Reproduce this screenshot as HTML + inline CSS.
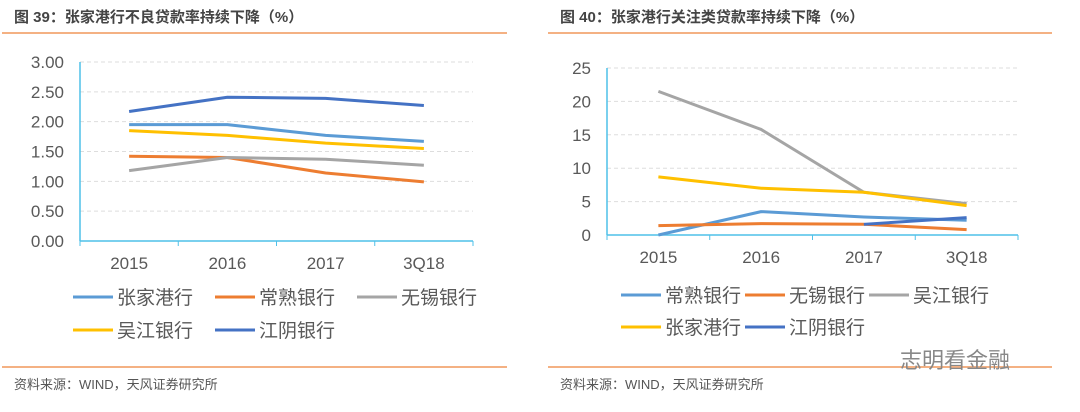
<!DOCTYPE html>
<html><head><meta charset="utf-8">
<style>
body{margin:0;background:#fff;width:1080px;height:407px;overflow:hidden;font-family:"Liberation Sans","Noto Sans CJK SC",sans-serif;}
svg text{font-family:"Liberation Sans","Noto Sans CJK SC",sans-serif;}
</style></head><body>
<svg id="s" width="1080" height="407" xmlns="http://www.w3.org/2000/svg">
<text x="14" y="22" font-size="15" font-weight="bold" fill="#444">图 39：张家港行不良贷款率持续下降（%）</text>
<text x="560" y="22" font-size="15" font-weight="bold" fill="#444">图 40：张家港行关注类贷款率持续下降（%）</text>
<line x1="2" y1="33" x2="507" y2="33" stroke="#F4B183" stroke-width="2"/>
<line x1="548" y1="33" x2="1052" y2="33" stroke="#F4B183" stroke-width="2"/>
<line x1="2" y1="367" x2="507" y2="367" stroke="#F4B183" stroke-width="2"/>
<line x1="548" y1="367" x2="1052" y2="367" stroke="#F4B183" stroke-width="2"/>
<text x="14" y="389" font-size="13" fill="#555">资料来源：WIND，天风证券研究所</text>
<text x="560" y="389" font-size="13" fill="#555">资料来源：WIND，天风证券研究所</text>
<text x="900" y="368" font-size="22" fill="#888">志明看金融</text>
<g id="c1"></g><g id="c2"></g>
</svg>
<script>
const cats=["2015","2016","2017","3Q18"];
const leftTicks=["0.00","0.50","1.00","1.50","2.00","2.50","3.00"];
const leftNames=["张家港行","常熟银行","无锡银行","吴江银行","江阴银行"];
const leftZJG=[1.95,1.95,1.77,1.67];
const leftCS=[1.42,1.40,1.14,0.99];
const leftWX=[1.18,1.40,1.37,1.27];
const leftWJ=[1.85,1.77,1.64,1.55];
const leftJY=[2.17,2.41,2.39,2.27];
const rightTicks=["0","5","10","15","20","25"];
const rightNames=["常熟银行","无锡银行","吴江银行","张家港行","江阴银行"];
const rightCS=[0,3.5,2.7,2.2];
const rightWX=[1.4,1.7,1.6,0.8];
const rightWJ=[21.5,15.8,6.4,4.7];
const rightZJG=[8.7,7.0,6.4,4.4];
const rightJY=[null,null,1.6,2.6];
const NS="http://www.w3.org/2000/svg";
function el(p,t,a){const e=document.createElementNS(NS,t);for(const k in a)e.setAttribute(k,a[k]);p.appendChild(e);return e;}
function chart(g,o){
  const {x0,x1,y0,y1,max,ticks,series,colors,names,legend}=o;
  const Y=v=>y0-(v/max)*(y0-y1);
  const bw=(x1-x0)/cats.length;
  const X=i=>x0+bw*(i+0.5);
  ticks.forEach((t,i)=>{const v=parseFloat(t);const y=Y(v);
    if(v>0){const l=el(g,"line",{x1:x0,x2:x1,y1:y,y2:y,stroke:"#ddd","stroke-dasharray":"4,3"});
      
      }
    const tx=el(g,"text",{x:x0-16,y:y+6,"text-anchor":"end","font-size":"17",fill:"#595959"});tx.textContent=t;
    
    
  });
  const ya=el(g,"line",{x1:x0,x2:x0,y1:y1,y2:y0,stroke:"#4FC1E9","stroke-width":1.5});
  
  
  const xa=el(g,"line",{x1:x0,x2:x1,y1:y0,y2:y0,stroke:"#4FC1E9","stroke-width":1.5});
  
  
  for(let i=0;i<=cats.length;i++){el(g,"line",{x1:x0+bw*i,x2:x0+bw*i,y1:y0,y2:y0+5,stroke:"#4FC1E9"});}
  cats.forEach((c,i)=>{const t=el(g,"text",{x:X(i),y:y0+28,"text-anchor":"middle","font-size":"17",fill:"#595959"});t.textContent=c;
    
    });
  series.forEach((s,k)=>{let d="";s.forEach((v,i)=>{if(v===null)return;d+=(d?"L":"M")+X(i)+","+Y(v);});
    const p=el(g,"path",{d:d,fill:"none",stroke:colors[k],"stroke-width":3,"stroke-linejoin":"round"});
    
    });
  names.forEach((n,k)=>{const [lx,ly]=legend[k];
    const l=el(g,"line",{x1:lx,x2:lx+40,y1:ly,y2:ly,stroke:colors[k],"stroke-width":3});
    
    
    const t=el(g,"text",{x:lx+44,y:ly+7,"font-size":"19",fill:"#595959"});t.textContent=n;
    
    });
}
chart(document.getElementById("c1"),{x0:80,x1:473,y0:241,y1:62,max:3,ticks:leftTicks,
  series:[leftZJG,leftCS,leftWX,leftWJ,leftJY],colors:["#5B9BD5","#ED7D31","#A5A5A5","#FFC000","#4472C4"],
  names:leftNames,legend:[[73,297],[215,297],[357,297],[73,330],[215,330]]});
chart(document.getElementById("c2"),{x0:607,x1:1018,y0:235,y1:68,max:25,ticks:rightTicks,
  series:[rightCS,rightWX,rightWJ,rightZJG,rightJY],colors:["#5B9BD5","#ED7D31","#A5A5A5","#FFC000","#4472C4"],
  names:rightNames,legend:[[621,295],[745,295],[869,295],[621,327],[745,327]]});
</script>
</body></html>
